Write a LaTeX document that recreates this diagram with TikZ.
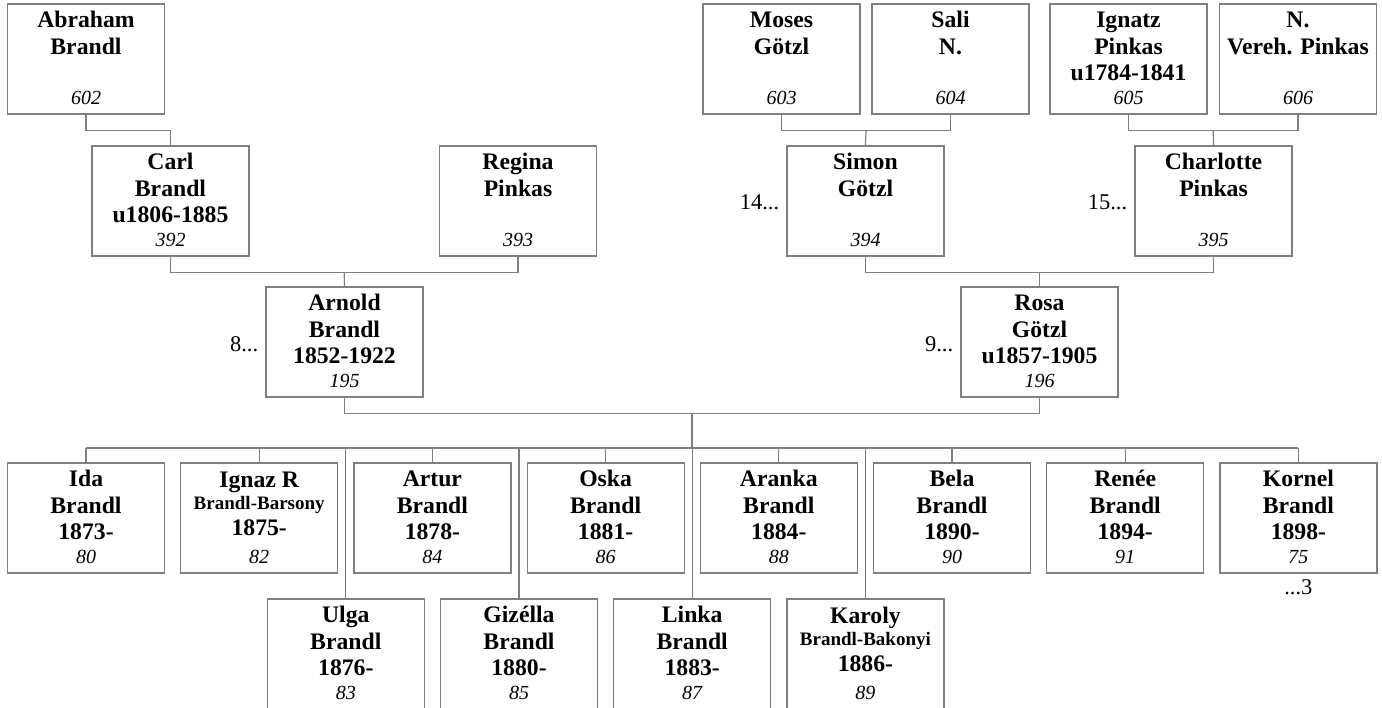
\documentclass[tikz,border=0pt]{standalone}
\usepackage{fontspec}
\setmainfont{Liberation Serif}
\usetikzlibrary{calc}
\definecolor{linegray}{RGB}{128,128,128}
\tikzset{
  x=1pt, y=-1pt,
  pbox/.style={draw=linegray, line width=1.2pt, minimum width=157pt, minimum height=110pt, inner sep=0pt, fill=white},
  nm/.style={font=\fontsize{23.7}{26}\selectfont\bfseries, inner sep=0pt, anchor=base},
  sm/.style={font=\fontsize{19}{22}\selectfont\bfseries, inner sep=0pt, anchor=base},
  num/.style={font=\fontsize{20}{24}\selectfont\itshape, inner sep=0pt, anchor=base},
  refl/.style={font=\fontsize{22.5}{26}\selectfont, inner sep=0pt},
  conn/.style={draw=linegray, line width=1.2pt},
}
% id, centre x, top y, line1, line2, line3, number
\newcommand\pbx[7]{%
  \node[pbox] (#1) at (#2,#3+55) {};
  \node[nm] (#1a) at ($(#1.north)+(0,24)$) {#4};
  \node[nm] (#1b) at ($(#1.north)+(0,51)$) {#5};
  \node[nm] (#1c) at ($(#1.north)+(0,77)$) {#6};
  \node[num] (#1n) at ($(#1.north)+(0,101)$) {#7};
}
% variant with small second line
\newcommand\pbxs[7]{%
  \node[pbox] (#1) at (#2,#3+55) {};
  \node[nm] (#1a) at ($(#1.north)+(0,25)$) {#4};
  \node[sm] (#1b) at ($(#1.north)+(0,47)$) {#5};
  \node[nm] (#1c) at ($(#1.north)+(0,73)$) {#6};
  \node[num] (#1n) at ($(#1.north)+(0,101)$) {#7};
}
\begin{document}
\begin{tikzpicture}
\useasboundingbox (0,0) rectangle (1382,708);
% generation 1
\pbx{abraham}{86}{4}{Abraham}{Brandl}{}{602}
\pbx{moses}{781.5}{4}{Moses}{Götzl}{}{603}
\pbx{sali}{950.5}{4}{Sali}{N.}{}{604}
\pbx{ignatz}{1128.5}{4}{Ignatz}{Pinkas}{u1784-1841}{605}
\pbx{nvereh}{1298}{4}{N.}{Vereh. Pinkas}{}{606}
% generation 2
\pbx{carl}{170.5}{146}{Carl}{Brandl}{u1806-1885}{392}
\pbx{regina}{518}{146}{Regina}{Pinkas}{}{393}
\pbx{simon}{865.5}{146}{Simon}{Götzl}{}{394}
\pbx{charlotte}{1213.5}{146}{Charlotte}{Pinkas}{}{395}
% generation 3
\pbx{arnold}{344.5}{287}{Arnold}{Brandl}{1852-1922}{195}
\pbx{rosa}{1039.5}{287}{Rosa}{Götzl}{u1857-1905}{196}
% children row A
\pbx{ida}{86}{463}{Ida}{Brandl}{1873-}{80}
\pbxs{ignaz}{259.2}{463}{Ignaz R}{Brandl-Barsony}{1875-}{82}
\pbx{artur}{432.4}{463}{Artur}{Brandl}{1878-}{84}
\pbx{oska}{605.6}{463}{Oska}{Brandl}{1881-}{86}
\pbx{aranka}{778.8}{463}{Aranka}{Brandl}{1884-}{88}
\pbx{bela}{952}{463}{Bela}{Brandl}{1890-}{90}
\pbx{renee}{1125.2}{463}{Renée}{Brandl}{1894-}{91}
\pbx{kornel}{1298.4}{463}{Kornel}{Brandl}{1898-}{75}
% children row B
\pbx{ulga}{345.8}{599}{Ulga}{Brandl}{1876-}{83}
\pbx{gizella}{519}{599}{Gizélla}{Brandl}{1880-}{85}
\pbx{linka}{692.2}{599}{Linka}{Brandl}{1883-}{87}
\pbxs{karoly}{865.4}{599}{Karoly}{Brandl-Bakonyi}{1886-}{89}
% reference labels
\node[refl, anchor=base east] (r8) at ($(arnold.north west)+(-7,65)$) {8...};
\node[refl, anchor=base east] (r9) at ($(rosa.north west)+(-7,65)$) {9...};
\node[refl, anchor=base east] (r14) at ($(simon.north west)+(-7,64)$) {14...};
\node[refl, anchor=base east] (r15) at ($(charlotte.north west)+(-7,64)$) {15...};
\node[refl, anchor=base] (r3) at ($(kornel.south)+(0,21)$) {...3};
% connectors
\draw[conn] (abraham.south) -- ++(0,16) -| (carl.north);
\draw[conn] (carl.south) -- ++(0,16) -| (regina.south);
\coordinate (cr) at ($(carl.south)!0.5!(regina.south)+(0,16)$);
\draw[conn] (cr) -- (arnold.north);
\draw[conn] (moses.south) -- ++(0,16) -| (sali.south);
\coordinate (ms) at ($(moses.south)!0.5!(sali.south)+(0,16)$);
\draw[conn] (ms) -- (simon.north);
\draw[conn] (ignatz.south) -- ++(0,16) -| (nvereh.south);
\coordinate (in) at ($(ignatz.south)!0.5!(nvereh.south)+(0,16)$);
\draw[conn] (in) -- (charlotte.north);
\draw[conn] (simon.south) -- ++(0,16) -| (charlotte.south);
\coordinate (sc) at ($(simon.south)!0.5!(charlotte.south)+(0,16)$);
\draw[conn] (sc) -- (rosa.north);
\draw[conn] (arnold.south) -- ++(0,16) -| (rosa.south);
\coordinate (ar) at ($(arnold.south)!0.5!(rosa.south)+(0,16)$);
\coordinate (busl) at (ida.north |- 0,448);
\coordinate (busr) at (kornel.north |- 0,448);
\coordinate (busm) at (ar |- 0,448);
\draw[conn] (ar) -- (busm);
\draw[conn] (busl) -- (busr);
\foreach \c in {ida,ignaz,artur,oska,aranka,bela,renee,kornel,ulga,gizella,linka,karoly}{
  \draw[conn] (\c.north |- busl) -- (\c.north);
}
\end{tikzpicture}
\end{document}
